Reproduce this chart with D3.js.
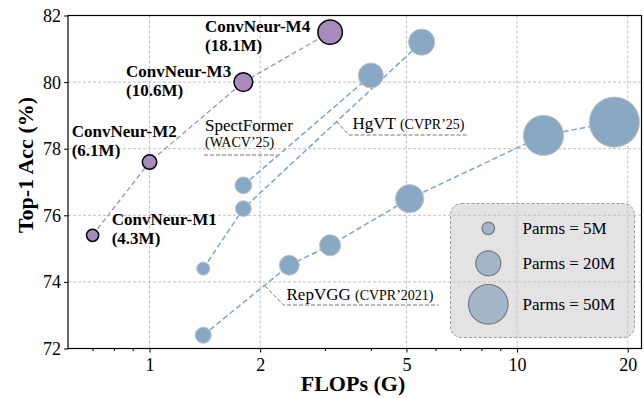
<!DOCTYPE html>
<html>
<head>
<meta charset="utf-8">
<script src="https://cdn.jsdelivr.net/npm/d3@7"></script>
<style>
  html, body { margin: 0; padding: 0; background: #fff; }
  svg { display: block; font-family: "Liberation Serif", "Times New Roman", serif; }
</style>
</head>
<body>
<svg id="chart" width="644" height="398"></svg>
<script>
// ---- data ----
const convNames  = ["ConvNeur-M1", "ConvNeur-M2", "ConvNeur-M3", "ConvNeur-M4"];
const convFlops  = [0.7, 1.0, 1.8, 3.1];
const convAcc    = [75.4, 77.6, 80.0, 81.5];
const convParams = [4.3, 6.1, 10.6, 18.1];

const spectFlops  = [1.8, 4.0];
const spectAcc    = [76.9, 80.2];
const spectParams = [9, 20];

const hgvtFlops  = [1.4, 1.8, 5.5];
const hgvtAcc    = [74.4, 76.2, 81.2];
const hgvtParams = [5.5, 8, 22];

const repFlops  = [1.4, 2.4, 3.1, 5.1, 11.8, 18.4];
const repAcc    = [72.4, 74.5, 75.1, 76.5, 78.4, 78.8];
const repParams = [8.3, 12.8, 14.3, 25.5, 51.8, 80.3];

const xTicks = [1, 2, 5, 10, 20];
const xMinorTicks = [0.7, 0.8, 0.9, 3, 4, 6, 7, 8, 9];
const yTicks = [72, 74, 76, 78, 80, 82];
const legendParams = [5, 20, 50];

// ---- layout ----
const svg = d3.select("#chart");
const L = 68, R = 641.5, T = 15.5, B = 348.5;
const x = d3.scaleLog().domain([0.6, 21.8]).range([L, R]);
const y = d3.scaleLinear().domain([72, 82]).range([B, T]);
const rS = d3.scaleSqrt().domain([0, 100]).range([0, 28]);

const purple = "#a78bbd";
const purpleLine = "#a88bc6";
const blue = "#88a8c4";
const blueLine = "#7da5c9";

// grid
const grid = svg.append("g");
grid.selectAll("line.gx").data(xTicks).enter().append("line")
  .attr("x1", d => x(d)).attr("x2", d => x(d)).attr("y1", T).attr("y2", B)
  .attr("stroke", "#b8b8b8").attr("stroke-width", 0.9).attr("stroke-dasharray", "3,2");
grid.selectAll("line.gy").data(yTicks).enter().append("line")
  .attr("x1", L).attr("x2", R).attr("y1", d => y(d)).attr("y2", d => y(d))
  .attr("stroke", "#b8b8b8").attr("stroke-width", 0.9).attr("stroke-dasharray", "3,2");

// axes
const xAxis = d3.axisBottom(x).tickValues(xTicks).tickFormat(d3.format("d")).tickSize(4).tickPadding(3);
const xMinor = d3.axisBottom(x).tickValues(xMinorTicks).tickFormat("").tickSize(2.5);
const yAxis = d3.axisLeft(y).tickValues(yTicks).tickFormat(d3.format("d")).tickSize(4).tickPadding(3);

const gx = svg.append("g").attr("transform", `translate(0,${B})`).call(xAxis);
svg.append("g").attr("transform", `translate(0,${B})`).call(xMinor).select(".domain").remove();
const gy = svg.append("g").attr("transform", `translate(${L},0)`).call(yAxis);
[gx, gy].forEach(g => {
  g.select(".domain").remove();
  g.selectAll("text").attr("font-size", 18).attr("fill", "#000")
    .attr("font-family", "Liberation Serif, serif");
  g.selectAll("line").attr("stroke", "#000");
});
gx.selectAll("text").attr("dy", "0.85em");
gy.selectAll("text").attr("dy", "0.33em");

// frame
svg.append("rect").attr("x", L).attr("y", T).attr("width", R - L).attr("height", B - T)
  .attr("fill", "none").attr("stroke", "#000").attr("stroke-width", 1.2);

// axis labels
svg.append("text").attr("x", 353).attr("y", 391).attr("text-anchor", "middle")
  .attr("font-size", 22).attr("font-weight", "bold").text("FLOPs (G)");
svg.append("text").attr("transform", "translate(33,165) rotate(-90)").attr("text-anchor", "middle")
  .attr("font-size", 22).attr("font-weight", "bold").text("Top-1 Acc (%)");

// series
function zip(fx, fy, fp) { return fx.map((v, i) => ({f: v, a: fy[i], p: fp[i]})); }
const conv = zip(convFlops, convAcc, convParams);
const spect = zip(spectFlops, spectAcc, spectParams);
const hgvt = zip(hgvtFlops, hgvtAcc, hgvtParams);
const rep = zip(repFlops, repAcc, repParams);

const line = d3.line().x(d => x(d.f)).y(d => y(d.a));
[[spect, blueLine], [hgvt, blueLine], [rep, blueLine]].forEach(([data, c]) => {
  svg.append("path").datum(data).attr("d", line).attr("fill", "none")
    .attr("stroke", c).attr("stroke-width", 1.5).attr("stroke-dasharray", "5.5,3");
});
svg.append("path").datum(conv).attr("d", line).attr("fill", "none")
  .attr("stroke", purpleLine).attr("stroke-width", 1.3).attr("stroke-dasharray", "5,3");

[spect, hgvt, rep].forEach(data => {
  svg.append("g").selectAll("circle").data(data).enter().append("circle")
    .attr("cx", d => x(d.f)).attr("cy", d => y(d.a)).attr("r", d => rS(d.p))
    .attr("fill", blue).attr("stroke", "#c4c4c4").attr("stroke-width", 1);
});
svg.append("g").selectAll("circle").data(conv).enter().append("circle")
  .attr("cx", d => x(d.f)).attr("cy", d => y(d.a)).attr("r", d => rS(d.p) + 0.3)
  .attr("fill", purple).attr("stroke", "#000").attr("stroke-width", 1.5);

// ConvNeur labels
const convLabelPos = [[111.7, 225], [71.7, 137], [126, 77], [205, 32]];
conv.forEach((d, i) => {
  const t = svg.append("text").attr("x", convLabelPos[i][0]).attr("y", convLabelPos[i][1])
    .attr("font-size", 17).attr("font-weight", "bold");
  t.append("tspan").attr("x", convLabelPos[i][0]).text(convNames[i]);
  t.append("tspan").attr("x", convLabelPos[i][0]).attr("dy", 18.5).text(`(${d.p}M)`);
});

// method labels
const dashC = "#777";
// SpectFormer
svg.append("text").attr("x", 205).attr("y", 131).attr("font-size", 17).text("SpectFormer");
svg.append("text").attr("x", 205).attr("y", 147).attr("font-size", 14).text("(WACV\u201925)");
svg.append("line").attr("x1", 204).attr("x2", 277).attr("y1", 155).attr("y2", 155)
  .attr("stroke", dashC).attr("stroke-width", 1).attr("stroke-dasharray", "4,2");
// HgVT
const hg = svg.append("text").attr("x", 352.5).attr("y", 128.5).attr("font-size", 17);
hg.append("tspan").text("HgVT ");
hg.append("tspan").attr("font-size", 14).text("(CVPR\u201925)");
svg.append("polyline").attr("points", "336.5,121.5 349,135 468,135").attr("fill", "none")
  .attr("stroke", dashC).attr("stroke-width", 1).attr("stroke-dasharray", "4,2");
// RepVGG
const rv = svg.append("text").attr("x", 286.5).attr("y", 299.5).attr("font-size", 17);
rv.append("tspan").text("RepVGG ");
rv.append("tspan").attr("font-size", 14).text("(CVPR\u20192021)");
svg.append("polyline").attr("points", "265,286 283.5,305 438.5,305").attr("fill", "none")
  .attr("stroke", dashC).attr("stroke-width", 1).attr("stroke-dasharray", "4,2");

// legend
const lg = svg.append("g");
lg.append("rect").attr("x", 450.5).attr("y", 203.5).attr("width", 184).attr("height", 134)
  .attr("rx", 11).attr("ry", 11).attr("fill", "#c8c8c8").attr("fill-opacity", 0.5)
  .attr("stroke", "#9a9a9a").attr("stroke-width", 1).attr("stroke-dasharray", "3,2");
const legY = [228.3, 263.3, 304.3];
legendParams.forEach((p, i) => {
  lg.append("circle").attr("cx", 488.3).attr("cy", legY[i]).attr("r", rS(p))
    .attr("fill", "#a3b5c8").attr("stroke", "#7a7a7a").attr("stroke-width", 1.2);
  lg.append("text").attr("x", 522.5).attr("y", legY[i] + 5.5).attr("font-size", 17)
    .text(`Parms = ${p}M`);
});
</script>
</body>
</html>
